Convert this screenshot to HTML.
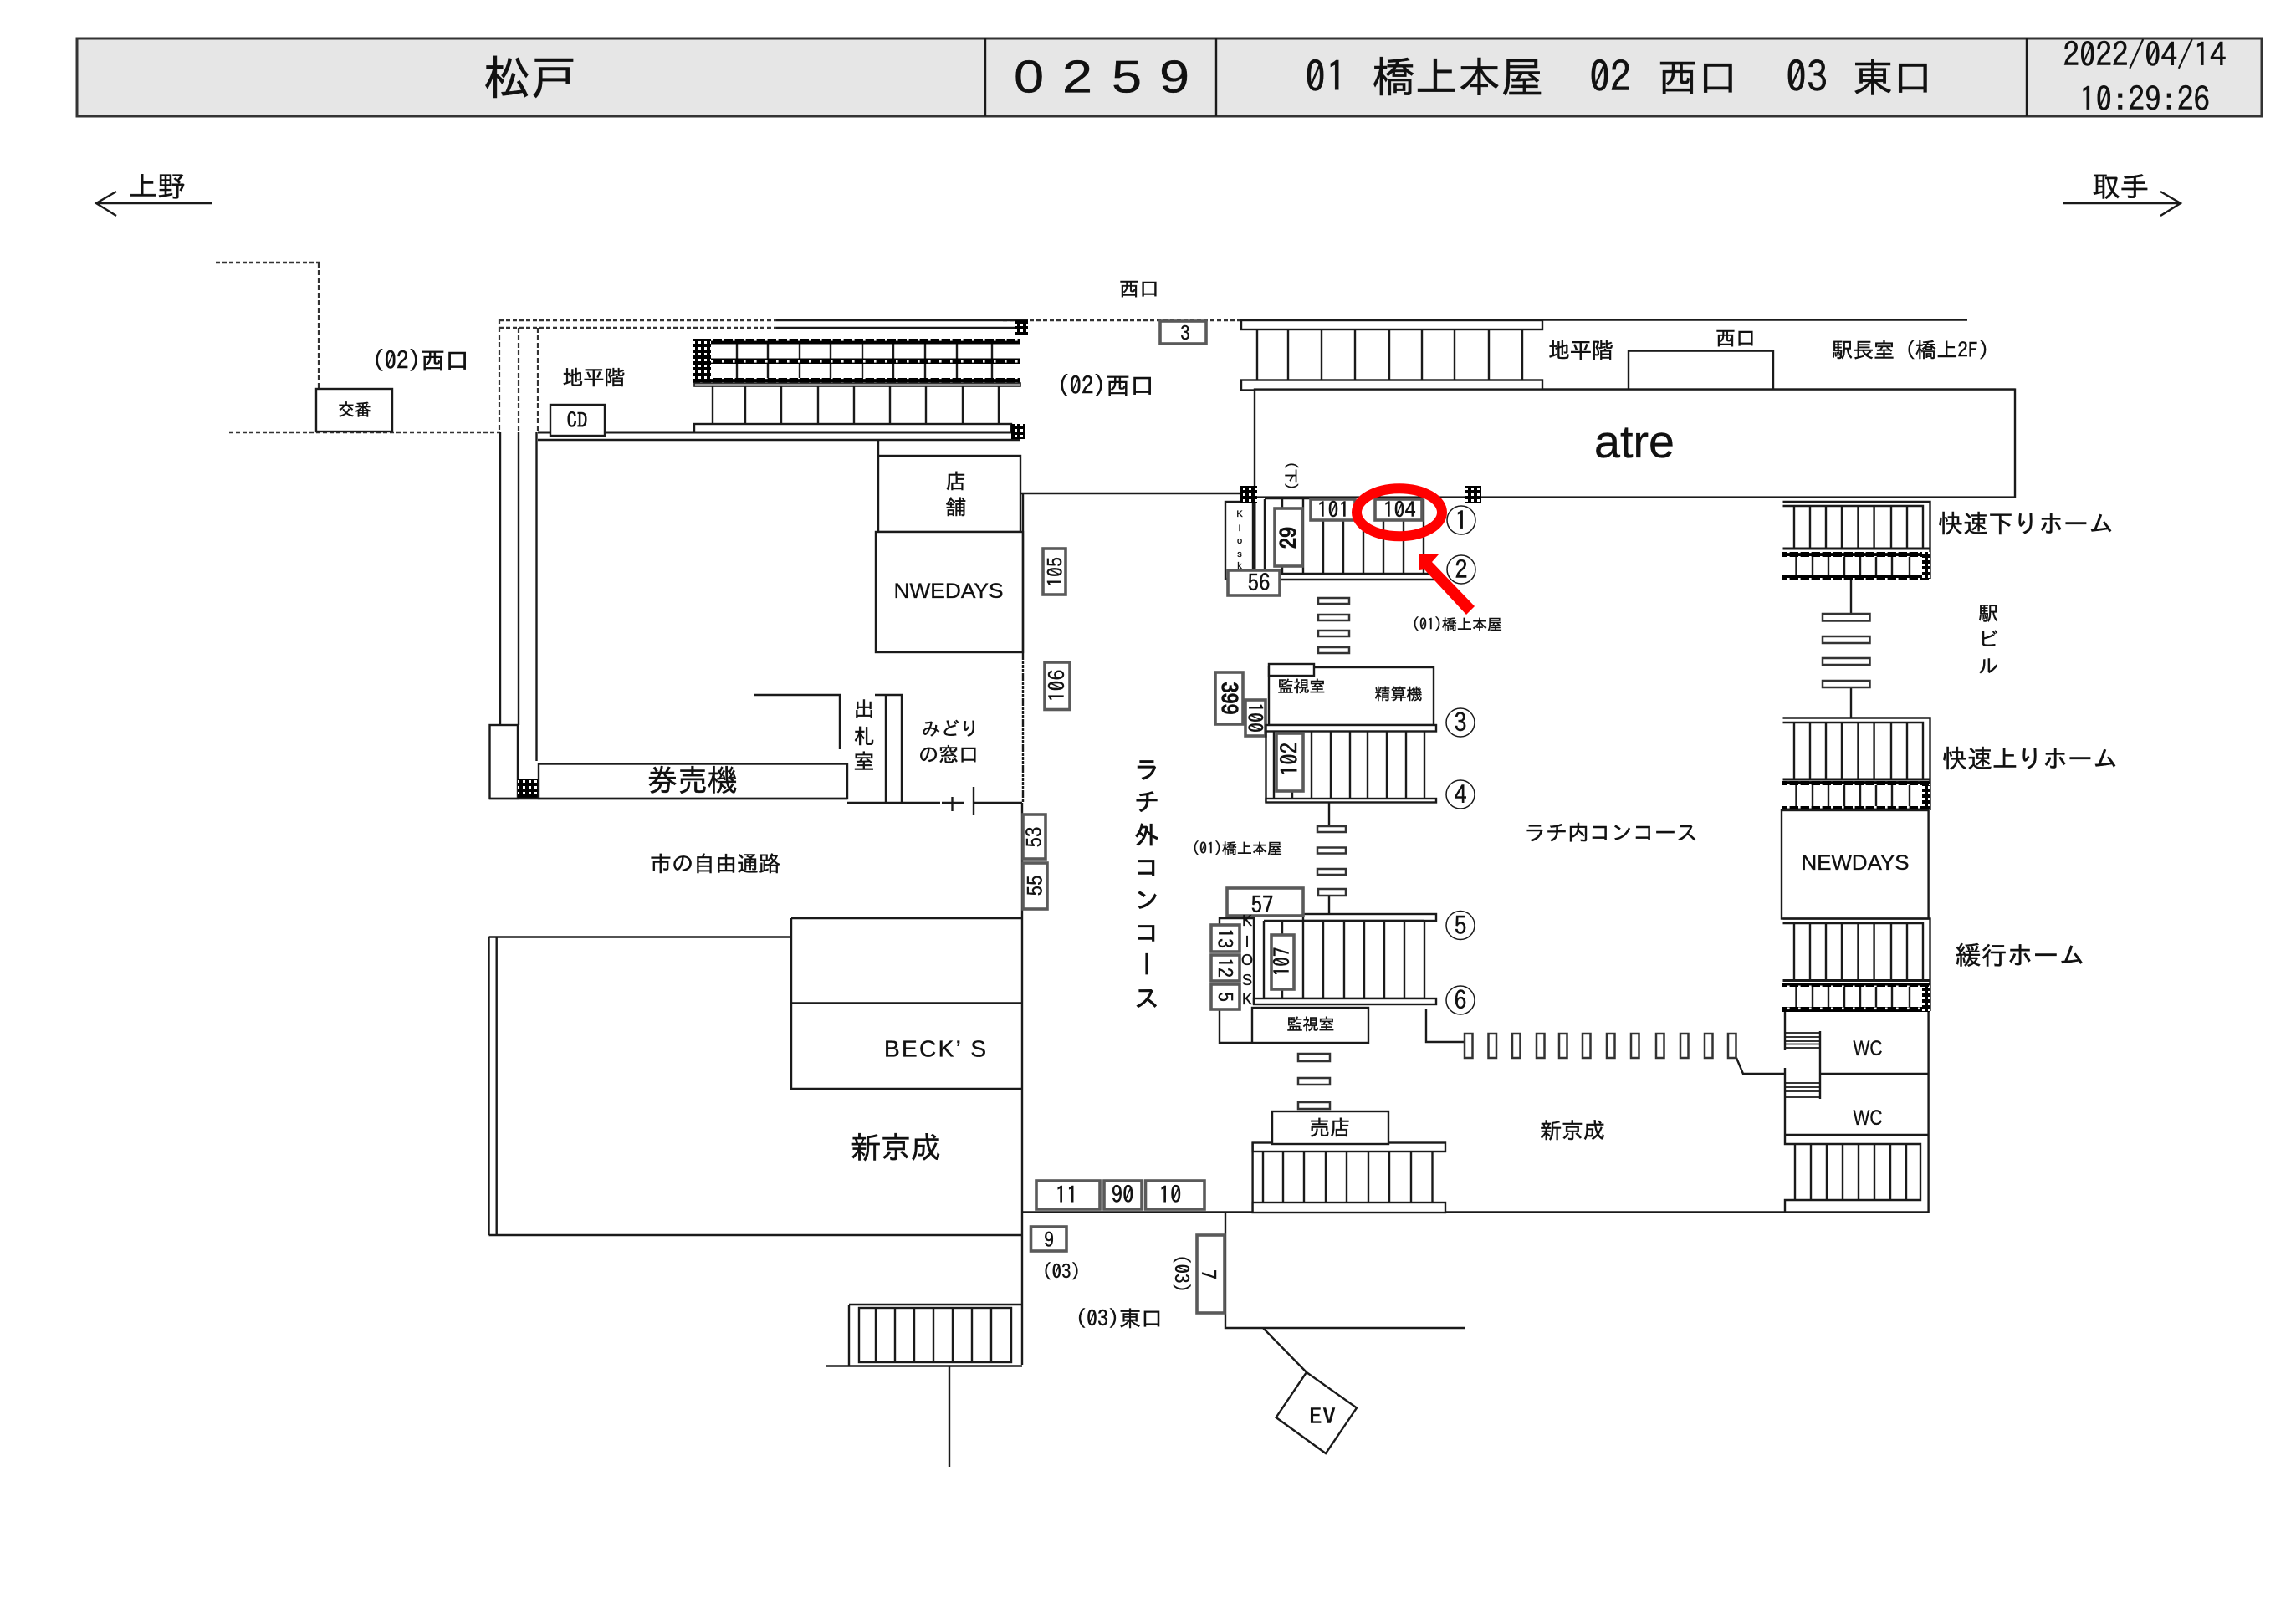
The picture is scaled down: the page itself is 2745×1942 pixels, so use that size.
<!DOCTYPE html>
<html lang="ja">
<head>
<meta charset="utf-8">
<title>松戸 0259</title>
<style>
html,body{margin:0;padding:0;background:#fff}
svg{display:block}
.t{font-family:"IPAGothic","Noto Sans CJK JP",sans-serif;text-anchor:middle;dominant-baseline:central;fill:#111;stroke:#111;stroke-width:.45}
.s{font-family:"Liberation Sans","Noto Sans CJK JP",sans-serif;text-anchor:middle;dominant-baseline:central;fill:#111;stroke:#111;stroke-width:.35}
.l{fill:none;stroke:#1a1a1a;stroke-width:2.4}
.b{fill:#fff;stroke:#1a1a1a;stroke-width:2.4}
.g{fill:#fff;stroke:#5a5a5a;stroke-width:3.6}
.d{fill:none;stroke:#333;stroke-width:2.4;stroke-dasharray:5 3}
.dv{fill:none;stroke:#333;stroke-width:2.2;stroke-dasharray:6 3}
.h{fill:url(#hp)}
.hs{fill:url(#hq)}
</style>
</head>
<body>
<svg width="2745" height="1942" viewBox="0 0 2745 1942" xmlns="http://www.w3.org/2000/svg">
<defs>
<pattern id="hp" width="7" height="7" patternUnits="userSpaceOnUse">
<rect width="7" height="7" fill="#000"/>
<rect x="2" y="2" width="3" height="3" fill="#fff"/>
</pattern>
<pattern id="hq" width="13" height="6.5" patternUnits="userSpaceOnUse">
<rect width="13" height="6.5" fill="#000"/>
<rect x="5" y="2" width="2.6" height="2.6" fill="#fff"/>
</pattern>
</defs>
<rect width="2745" height="1942" fill="#fff"/>

<!-- Header -->
<rect x="92" y="46" width="2612" height="93" fill="#e6e6e6" stroke="#333" stroke-width="3"/>
<path class="l" d="M1178 46V139M1454 46V139M2423 46V139"/>
<text class="t" x="634" y="92" font-size="56">松戸</text>
<text class="s" transform="translate(1230 92) scale(1.18 1)" x="0" y="0" font-size="55">0</text>
<text class="s" transform="translate(1288 92) scale(1.18 1)" x="0" y="0" font-size="55">2</text>
<text class="s" transform="translate(1347 92) scale(1.18 1)" x="0" y="0" font-size="55">5</text>
<text class="s" transform="translate(1404 92) scale(1.18 1)" x="0" y="0" font-size="55">9</text>
<text class="t" x="1585" y="92" font-size="50">01</text>
<text class="t" x="1743" y="92" font-size="51">橋上本屋</text>
<text class="t" x="1925" y="92" font-size="50">02</text>
<text class="t" x="2030" y="92" font-size="48">西口</text>
<text class="t" x="2160" y="92" font-size="50">03</text>
<text class="t" x="2263" y="92" font-size="48">東口</text>
<text class="t" x="2564" y="65" font-size="39">2022/04/14</text>
<text class="t" x="2564" y="118" font-size="39">10:29:26</text>

<!-- Direction arrows -->
<path class="l" d="M254 243H115M139 229L115 243L139 258"/>
<text class="t" x="188" y="223" font-size="34">上野</text>
<path class="l" d="M2467 243H2607M2583 229L2607 243L2583 258"/>
<text class="t" x="2535" y="223" font-size="34">取手</text>

<!-- Dotted boundaries -->
<path class="d" d="M258 314H385M274 517H598M597 383H928M597 392H928M1199 383H1484"/>
<path class="dv" d="M381 314V465M597 382V517M620 392V517M643 392V517"/>
<rect class="b" x="378" y="465" width="91" height="51"/>
<text class="t" x="424" y="490" font-size="20">交番</text>
<text class="t" x="503" y="431" font-size="29">(02)西口</text>
<text class="t" x="710" y="452" font-size="25">地平階</text>

<!-- Top west rails & stairs -->
<path class="l" d="M928 383H1229M928 392H1213"/>
<rect class="h" x="1213" y="383" width="16" height="17"/>
<path class="l" d="M881 411V452M918 411V452M956 411V452M993 411V452M1031 411V452M1068 411V452M1106 411V452M1144 411V452M1186 411V452"/>
<rect class="hs" x="828" y="405" width="392" height="6.5"/>
<rect class="hs" x="828" y="428.5" width="392" height="6.5"/>
<rect class="hs" x="828" y="452" width="392" height="6"/>
<rect class="h" x="828" y="405" width="22" height="52"/>
<rect x="830" y="458" width="390" height="4" fill="#999" stroke="#1a1a1a" stroke-width="1.6"/>
<path class="l" d="M852 461V507M891 461V507M934 461V507M978 461V507M1021 461V507M1064 461V507M1107 461V507M1151 461V507M1194 461V507"/>
<rect class="b" x="830" y="507" width="379" height="10"/>
<path class="l" style="stroke-width:3" d="M643 517H1209"/>
<path class="l" d="M643 526H1220"/>
<rect class="h" x="1209" y="507" width="17" height="18"/>
<rect class="b" x="658" y="484" width="65" height="37"/>
<text class="t" x="690" y="503" font-size="25">CD</text>
<text class="t" x="1322" y="461" font-size="29">(02)西口</text>
<text class="t" x="1362" y="345" font-size="24">西口</text>
<rect class="g" x="1387" y="384" width="55" height="27"/>
<text class="t" x="1417" y="398" font-size="23">3</text>

<!-- Left walls -->
<path class="l" d="M598 517V867M620 517V867M641.5 517V910"/>
<rect class="b" x="585.5" y="867" width="33.5" height="88"/>
<rect class="h" x="619" y="931" width="25" height="24"/>
<rect class="b" x="644" y="913.5" width="369" height="41.5"/>
<path class="l" d="M585 955H1013"/>
<text class="t" x="828" y="933" font-size="36">券売機</text>
<path class="l" d="M1050 527V545"/>
<rect class="b" x="1050" y="545" width="170" height="91"/>
<text class="t" x="1143" y="576" font-size="25">店</text>
<text class="t" x="1143" y="607" font-size="25">舗</text>
<rect class="b" x="1047" y="636" width="176" height="144"/>
<text class="s" x="1134" y="707" font-size="25" textLength="131" lengthAdjust="spacingAndGlyphs">NWEDAYS</text>

<!-- Ticket office -->
<path class="l" d="M901 831H1004V896M1046 831H1078V960M1059 831V960M1013 960H1124M1126 960H1153M1138.5 953V970M1164 941V974M1164 960H1222"/>
<text class="t" x="1033" y="848" font-size="25">出</text>
<text class="t" x="1033" y="881" font-size="25">札</text>
<text class="t" x="1033" y="911" font-size="25">室</text>
<text class="t" x="1136" y="871" font-size="23">みどり</text>
<text class="t" x="1134" y="902" font-size="24">の窓口</text>
<text class="t" x="855" y="1033" font-size="26">市の自由通路</text>

<!-- Main wall and concourse -->
<path class="l" d="M1220 590H1500M1223 590V780M1222 960V1632"/>
<path class="l" style="stroke-dasharray:4 1" d="M1223 780V960"/>
<rect class="g" x="1247" y="656" width="27" height="55"/>
<text class="t" transform="rotate(-90 1261 684)" x="1261" y="684" font-size="24">105</text>
<rect class="g" x="1249" y="792" width="30" height="56.5"/>
<text class="t" transform="rotate(-90 1264 820)" x="1264" y="820" font-size="26">106</text>
<rect class="g" x="1223" y="974" width="27" height="53"/>
<text class="t" transform="rotate(-90 1237 1001)" x="1237" y="1001" font-size="25">53</text>
<rect class="g" x="1223" y="1032" width="29" height="55"/>
<text class="t" transform="rotate(-90 1238 1059)" x="1238" y="1059" font-size="25">55</text>
<text class="t" style="writing-mode:vertical-rl;text-anchor:start;dominant-baseline:auto;letter-spacing:9px;stroke-width:.8" x="1371" y="904" font-size="30">ラチ外コンコース</text>

<!-- BECK'S & Shin-Keisei -->
<path class="l" d="M584.5 1120.5H946M584.5 1120.5V1477M593.7 1120.5V1477M584.5 1477H1221"/>
<path class="l" d="M946 1098H1222M946 1098V1302H1222M946 1199.5H1222"/>
<text class="s" x="1118" y="1254" font-size="28" textLength="122" lengthAdjust="spacing">BECK’ S</text>
<text class="t" x="1071" y="1372" font-size="36">新京成</text>

<!-- South-west stairs -->
<path class="l" d="M987 1633.5H1222M1015 1560H1222M1015 1560V1633.5M1135 1633.5V1754"/>
<rect class="l" x="1027" y="1564" width="182" height="65"/>
<path class="l" d="M1047 1564V1629M1070 1564V1629M1093 1564V1629M1116 1564V1629M1139 1564V1629M1162 1564V1629M1185 1564V1629"/>

<!-- Bottom lines -->
<path class="l" d="M1221 1449.5H2305M1465 1450V1588H1752M1510 1588L1562 1641"/>
<polygon class="b" points="1562,1641 1622,1683.5 1585,1738 1525.6,1695"/>
<text class="t" x="1581" y="1694" font-size="26" textLength="32" lengthAdjust="spacingAndGlyphs">EV</text>
<rect class="g" x="1239" y="1412" width="76" height="34"/>
<text class="t" x="1275" y="1429" font-size="27">11</text>
<rect class="g" x="1320" y="1412" width="45" height="34"/>
<text class="t" x="1342" y="1429" font-size="27">90</text>
<rect class="g" x="1369.5" y="1412" width="70.5" height="34"/>
<text class="t" x="1399" y="1429" font-size="27">10</text>
<rect class="g" x="1232.5" y="1467" width="42.5" height="29"/>
<text class="t" x="1254" y="1482" font-size="24">9</text>
<text class="t" x="1269" y="1520" font-size="23">(03)</text>
<text class="t" transform="rotate(90 1413 1523)" x="1413" y="1523" font-size="23">(03)</text>
<rect class="g" x="1431" y="1477" width="33" height="93"/>
<text class="t" transform="rotate(90 1445 1524)" x="1445" y="1524" font-size="24">7</text>
<text class="t" x="1338" y="1577" font-size="26">(03)東口</text>

<!-- North east rails -->
<path class="l" d="M1484 382.5H2352M1844 465.6H2409"/>
<rect class="b" x="1484" y="383" width="360" height="11"/>
<path class="l" d="M1503 394V454.5M1540 394V454.5M1580 394V454.5M1620 394V454.5M1661 394V454.5M1700 394V454.5M1739 394V454.5M1780 394V454.5M1820 394V454.5"/>
<rect class="b" x="1484" y="454.5" width="360" height="12"/>
<rect class="b" x="1947" y="419.6" width="173" height="46"/>
<text class="t" x="2075" y="404" font-size="24">西口</text>
<text class="t" x="1890" y="419" font-size="26">地平階</text>
<text class="t" x="2284" y="419" font-size="25" textLength="188" lengthAdjust="spacingAndGlyphs">駅長室 (橋上2F)</text>

<!-- atre -->
<rect class="b" x="1500" y="465.6" width="909" height="129"/>
<text class="s" style="dominant-baseline:auto" x="1954" y="547" font-size="55" textLength="96" lengthAdjust="spacingAndGlyphs">atre</text>
<text class="t" transform="rotate(90 1543 569)" x="1543" y="569" font-size="17">(下)</text>

<!-- Platform 1-2 stairs -->
<path class="l" style="stroke-width:3" d="M1500 590V680"/>
<path class="l" d="M1512 597V687M1512 596H1567M1533 597V607M1533 677V686M1512 686H1720M1530 693H1720"/>
<path class="l" d="M1558 597V686M1582 622V686M1606 622V686M1630 622V686M1654 622V686M1678 622V686M1702 597V686"/>
<rect class="b" x="1465" y="600" width="33" height="92"/>
<text class="s" x="1482" y="615" font-size="11">K</text>
<text class="s" x="1482" y="632" font-size="11">I</text>
<text class="s" x="1482" y="647" font-size="11">o</text>
<text class="s" x="1482" y="663" font-size="11">s</text>
<text class="s" x="1482" y="677" font-size="11">k</text>
<path class="l" style="stroke-width:3" d="M1499 590V680"/>
<rect class="h" x="1483" y="581" width="20" height="20"/>
<rect class="h" x="1751" y="581" width="20" height="20"/>
<rect class="g" x="1524" y="608" width="33" height="69"/>
<text class="t" style="font-weight:bold" transform="rotate(-90 1541 643)" x="1541" y="643" font-size="26">29</text>
<rect class="g" x="1567" y="597" width="53" height="25"/>
<text class="t" x="1594" y="610" font-size="26">101</text>
<rect class="g" x="1644" y="597" width="56" height="25"/>
<text class="t" x="1673" y="610" font-size="26">104</text>
<rect class="g" x="1468" y="682" width="62" height="30"/>
<text class="t" x="1505" y="697" font-size="27">56</text>

<!-- Circled numbers -->
<g class="l" style="stroke-width:1.5">
<circle cx="1747" cy="622" r="17"/><circle cx="1747" cy="681" r="17"/><circle cx="1746" cy="864" r="17"/><circle cx="1746" cy="950" r="17"/><circle cx="1746" cy="1106.5" r="17"/><circle cx="1746" cy="1196" r="17"/>
</g>
<text class="t" x="1747" y="622" font-size="30">1</text><text class="t" x="1747" y="681" font-size="30">2</text><text class="t" x="1746" y="864" font-size="30">3</text><text class="t" x="1746" y="950" font-size="30">4</text><text class="t" x="1746" y="1106.5" font-size="30">5</text><text class="t" x="1746" y="1196" font-size="30">6</text>

<!-- Crosswalk 1 -->
<g class="b" style="stroke-width:2.5;stroke:#333">
<rect x="1576" y="715" width="37" height="7"/><rect x="1576" y="735" width="37" height="7"/><rect x="1576" y="754" width="37" height="7"/><rect x="1576" y="774" width="37" height="7"/>
</g>
<text class="t" x="1742" y="747" font-size="18">(01)橋上本屋</text>

<!-- Platform 3-4 -->
<rect class="b" x="1517" y="798" width="197" height="69"/>
<rect class="b" x="1517" y="794" width="54" height="14"/>
<text class="t" x="1556" y="821" font-size="19">監視室</text>
<text class="t" x="1672" y="830" font-size="19">精算機</text>
<rect class="g" x="1453" y="804" width="33" height="62"/>
<text class="t" style="font-weight:bold" transform="rotate(90 1469 835)" x="1469" y="835" font-size="26">399</text>
<rect class="g" x="1489" y="837" width="24" height="43"/>
<text class="t" transform="rotate(90 1501 858)" x="1501" y="858" font-size="24">100</text>
<rect class="b" x="1513.5" y="867" width="203.5" height="7.5"/>
<path class="l" d="M1513.5 874V959.5M1523 874V955M1545 874V955M1568 874V955M1591 874V955M1614 874V955M1635 874V955M1658 874V955M1681 874V955M1703 874V955"/>
<rect class="b" x="1513.5" y="955" width="203.5" height="4.5"/>
<rect class="g" x="1526" y="877" width="32" height="69"/>
<text class="t" transform="rotate(-90 1542 908)" x="1542" y="908" font-size="27">102</text>

<!-- Crosswalk 2 -->
<path class="l" d="M1589 959V988M1589 1071V1094"/>
<g class="b" style="stroke-width:2.5;stroke:#333">
<rect x="1575" y="988" width="34" height="7"/><rect x="1575" y="1013.5" width="34" height="7"/><rect x="1575" y="1039" width="34" height="7"/><rect x="1576" y="1063" width="33" height="8"/>
</g>
<text class="t" x="1479" y="1015" font-size="18">(01)橋上本屋</text>

<!-- Platform 5-6 -->
<rect class="b" x="1558" y="1093" width="159" height="8"/>
<path class="l" d="M1458 1105V1098H1499V1201M1511 1101V1194H1703M1511 1101H1703M1533 1101V1117M1533 1183V1194M1558 1101V1194M1582 1101V1194M1607 1101V1194M1631 1101V1194M1655 1101V1194M1679 1101V1194M1703 1101V1194"/>
<rect class="b" x="1499" y="1194" width="218" height="7"/>
<path class="l" d="M1458 1207V1247H1497"/>
<rect class="g" x="1467" y="1062" width="91" height="33"/>
<text class="t" x="1509" y="1082" font-size="27">57</text>
<text class="s" x="1491" y="1101" font-size="18">K</text>
<text class="s" x="1491" y="1126" font-size="18">I</text>
<text class="s" x="1491" y="1148" font-size="18">O</text>
<text class="s" x="1491" y="1172" font-size="18">S</text>
<text class="s" x="1491" y="1195" font-size="18">K</text>
<rect class="g" x="1520" y="1118" width="27" height="65"/>
<text class="t" transform="rotate(-90 1533 1150)" x="1533" y="1150" font-size="26" textLength="35" lengthAdjust="spacingAndGlyphs">107</text>
<rect class="g" x="1448" y="1106" width="34" height="32"/>
<text class="t" transform="rotate(90 1465 1122)" x="1465" y="1122" font-size="24">13</text>
<rect class="g" x="1448" y="1142" width="34" height="31"/>
<text class="t" transform="rotate(90 1465 1157)" x="1465" y="1157" font-size="24">12</text>
<rect class="g" x="1448" y="1177" width="34" height="30"/>
<text class="t" transform="rotate(90 1465 1192)" x="1465" y="1192" font-size="24">5</text>
<rect class="b" x="1497" y="1205" width="139" height="42"/>
<text class="t" x="1567" y="1225" font-size="19">監視室</text>

<!-- Connector to WC -->
<path class="l" d="M1705 1206V1246H1751M2076 1265L2084 1284H2134"/>
<g class="b" style="stroke-width:2.5;stroke:#333">
<rect x="1751" y="1236" width="9.5" height="29"/><rect x="1779.5" y="1236" width="9.5" height="29"/><rect x="1808" y="1236" width="9.5" height="29"/><rect x="1837" y="1236" width="9.5" height="29"/><rect x="1864" y="1236" width="9.5" height="29"/><rect x="1892" y="1236" width="9.5" height="29"/><rect x="1921" y="1236" width="9.5" height="29"/><rect x="1950" y="1236" width="9.5" height="29"/><rect x="1980" y="1236" width="9.5" height="29"/><rect x="2009" y="1236" width="9.5" height="29"/><rect x="2038" y="1236" width="9.5" height="29"/><rect x="2066" y="1236" width="9.5" height="29"/>
</g>

<!-- Crosswalk 3 -->
<g class="b" style="stroke-width:2.5;stroke:#333">
<rect x="1552" y="1260" width="38" height="9"/><rect x="1552" y="1289" width="38" height="8"/><rect x="1552" y="1318" width="38" height="8"/>
</g>

<!-- Bottom center stairs -->
<rect class="b" x="1497.6" y="1366.5" width="230.4" height="10.5"/>
<path class="l" d="M1497.6 1366V1450M1510 1377V1438M1534 1377V1438M1559 1377V1438M1585 1377V1438M1610 1377V1438M1636 1377V1438M1661 1377V1438M1687 1377V1438M1712.5 1377V1438"/>
<rect class="b" x="1497.6" y="1438" width="230.4" height="12"/>
<rect class="b" x="1521" y="1329" width="139" height="39"/>
<text class="t" x="1590" y="1349" font-size="25">売店</text>
<text class="t" x="1880" y="1352" font-size="26">新京成</text>
<text class="t" x="1926" y="996" font-size="26">ラチ内コンコース</text>

<!-- Right column: rapid down -->
<path class="l" d="M2131.5 600H2307.5V692M2131.5 605H2299V656"/>
<path class="l" d="M2145 605V656M2164 605V656M2183 605V656M2202 605V656M2221.5 605V656M2240.6 605V656M2261 605V656M2280 605V656"/>
<path class="l" style="stroke-width:3" d="M2131.5 656H2307"/>
<rect class="hs" x="2131" y="660" width="176.5" height="6"/>
<path class="l" d="M2147.5 666V687M2167 666V687M2186 666V687M2205 666V687M2224 666V687M2243 666V687M2262 666V687M2283 666V687"/>
<rect class="hs" x="2131" y="687" width="176.5" height="6"/>
<rect class="h" x="2298" y="660" width="9.5" height="32"/>
<path class="l" d="M2213 693V734M2213 822V858"/>
<g class="b" style="stroke-width:2.5;stroke:#333">
<rect x="2179" y="734" width="56.5" height="8.5"/><rect x="2179" y="761" width="56.5" height="8"/><rect x="2179" y="787" width="56.5" height="8"/><rect x="2179" y="814" width="56.5" height="8"/>
</g>
<text class="t" x="2422" y="626" font-size="30">快速下りホーム</text>
<text class="t" x="2377" y="733" font-size="24">駅</text>
<text class="t" x="2377" y="764" font-size="24">ビ</text>
<text class="t" x="2377" y="796" font-size="24">ル</text>

<!-- Rapid up -->
<path class="l" d="M2131.5 858.5H2307.5V969M2131.5 864H2299V932"/>
<path class="l" d="M2145 864V932M2164 864V932M2183 864V932M2202 864V932M2221.5 864V932M2240.6 864V932M2261 864V932M2280 864V932"/>
<path class="l" style="stroke-width:3" d="M2131.5 932H2307"/>
<rect class="hs" x="2131" y="934" width="176.5" height="5"/>
<path class="l" d="M2147.5 939V965M2167 939V965M2186 939V965M2205 939V965M2224 939V965M2243 939V965M2262 939V965M2283 939V965"/>
<rect class="hs" x="2131" y="964" width="176.5" height="5"/>
<rect class="h" x="2298" y="939" width="9.5" height="30"/>
<text class="t" x="2427" y="907" font-size="30">快速上りホーム</text>
<rect class="b" x="2130" y="969" width="175.6" height="129.5"/>
<text class="s" x="2218" y="1032" font-size="25" textLength="129" lengthAdjust="spacingAndGlyphs">NEWDAYS</text>

<!-- Local -->
<path class="l" d="M2131.5 1098.5H2307.5V1209M2131.5 1104H2299V1172.5"/>
<path class="l" d="M2145 1104V1172.5M2164 1104V1172.5M2183 1104V1172.5M2202 1104V1172.5M2221.5 1104V1172.5M2240.6 1104V1172.5M2261 1104V1172.5M2280 1104V1172.5"/>
<path class="l" style="stroke-width:3" d="M2131.5 1172.5H2307"/>
<rect class="hs" x="2131" y="1175" width="176.5" height="5"/>
<path class="l" d="M2147.5 1180V1204M2167 1180V1204M2186 1180V1204M2205 1180V1204M2224 1180V1204M2243 1180V1204M2262 1180V1204M2283 1180V1204"/>
<rect class="hs" x="2131" y="1204" width="176.5" height="6"/>
<rect class="h" x="2298" y="1180" width="9.5" height="29"/>
<text class="t" x="2415" y="1142" font-size="31">緩行ホーム</text>

<!-- WC -->
<path class="l" d="M2305.6 1210V1450M2134 1210V1256M2134 1277V1368H2296V1435H2134V1450M2176 1284H2305.6M2134 1357H2305.6M2176 1233V1314"/>
<path class="l" style="stroke-width:1.8" d="M2134 1235H2176M2134 1240H2176M2134 1245H2176M2134 1248.5H2176M2134 1253H2176M2134 1295H2176M2134 1300H2176M2134 1305H2176M2134 1312H2176"/>
<text class="s" x="2233" y="1254" font-size="25" textLength="35" lengthAdjust="spacingAndGlyphs">WC</text>
<text class="s" x="2233" y="1337" font-size="25" textLength="35" lengthAdjust="spacingAndGlyphs">WC</text>

<!-- WC bottom stairs -->
<path class="l" d="M2146 1369V1435M2165 1369V1435M2184 1369V1435M2203 1369V1435M2222 1369V1435M2241 1369V1435M2260 1369V1435M2279 1369V1435"/>

<!-- Red marks -->
<ellipse cx="1673" cy="612.7" rx="51" ry="28.5" fill="none" stroke="#ff0000" stroke-width="12"/>
<polygon fill="#ff0000" points="1697,662 1720,663 1712,672 1763,725 1753,735 1703,681 1697,682"/>
</svg>
</body>
</html>
